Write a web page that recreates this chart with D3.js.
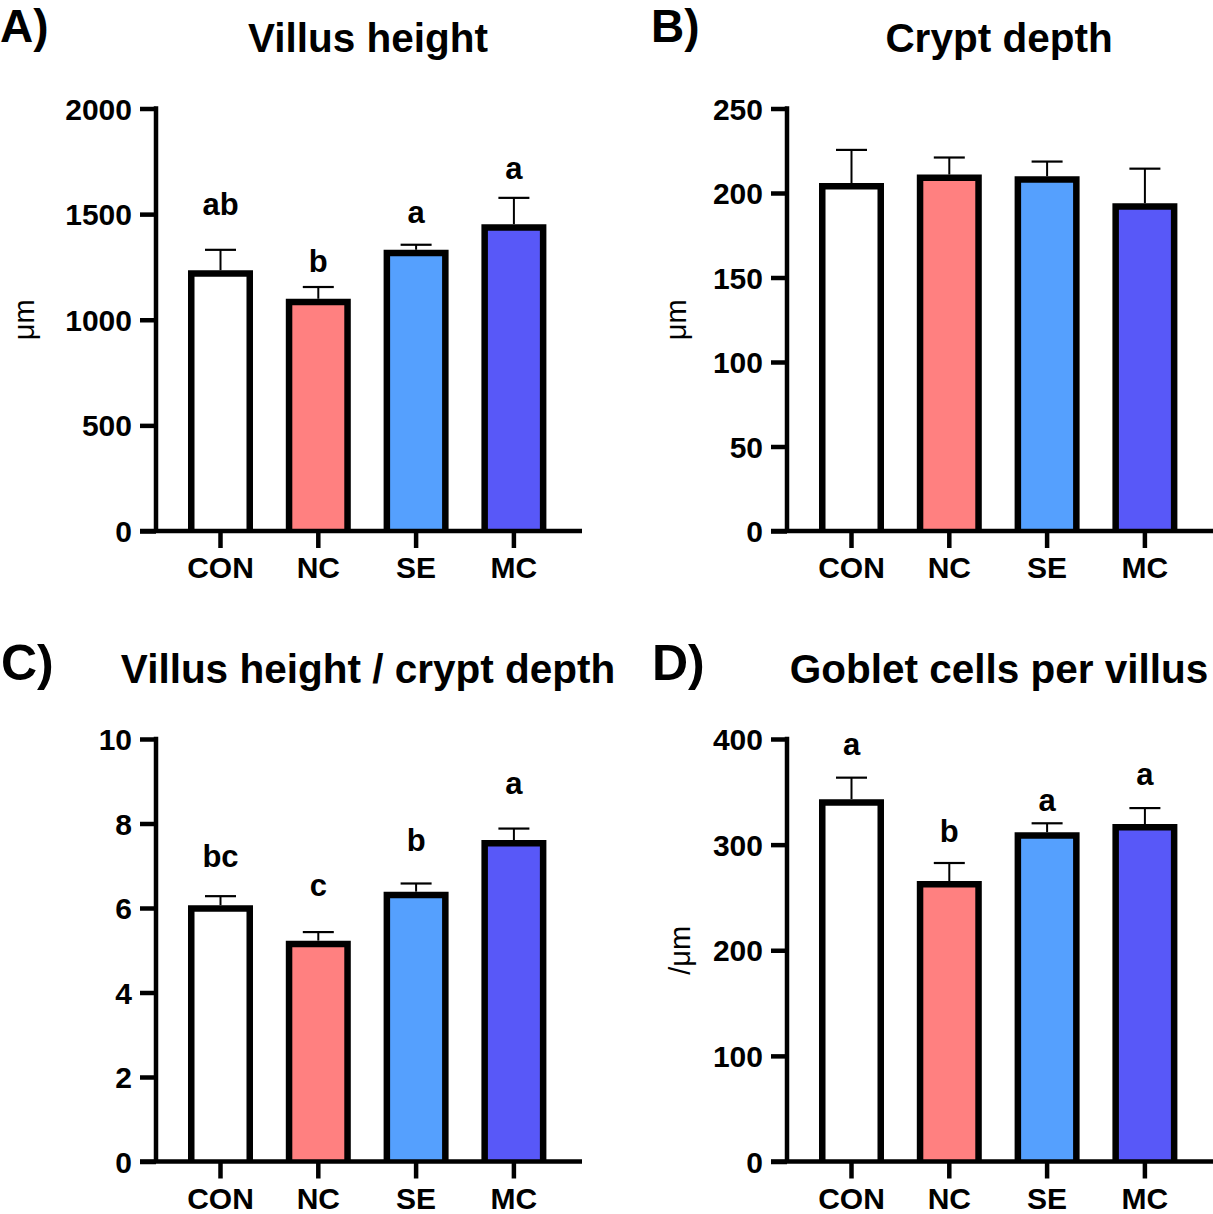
<!DOCTYPE html>
<html>
<head>
<meta charset="utf-8">
<script src="https://cdn.jsdelivr.net/npm/d3@7"></script>
<style>
  html, body { margin: 0; padding: 0; background: #fff; }
  svg { display: block; font-family: "Liberation Sans", Arial, Helvetica, sans-serif; }
</style>
</head>
<body>
<svg id="chart" width="1213" height="1214"></svg>
<script>
// ---------------- data ----------------
const groups = ["CON", "NC", "SE", "MC"];

const villusMean = [1219, 1084, 1316, 1437];
const villusSem = [112, 71, 39, 140];
const villusLetters = ["ab", "b", "a", "a"];
const villusLetterAt = [1495, 1225, 1459, 1667];
const villusTicks = [0, 500, 1000, 1500, 2000];

const cryptMean = [204, 209, 208, 192];
const cryptSem = [21.5, 12, 10.6, 22.4];
const cryptLetters = ["", "", "", ""];
const cryptLetterAt = [0, 0, 0, 0];
const cryptTicks = [0, 50, 100, 150, 200, 250];

const ratioMean = [5.99, 5.15, 6.31, 7.53];
const ratioSem = [0.29, 0.28, 0.27, 0.35];
const ratioLetters = ["bc", "c", "b", "a"];
const ratioLetterAt = [6.97, 6.28, 7.34, 8.69];
const ratioTicks = [0, 2, 4, 6, 8, 10];

const gobletMean = [340, 262.5, 308.7, 316.4];
const gobletSem = [23.4, 20.1, 11.5, 18.2];
const gobletLetters = ["a", "b", "a", "a"];
const gobletLetterAt = [385, 302.5, 332, 356];
const gobletTicks = [0, 100, 200, 300, 400];

const barColors = ["#FFFFFF", "#FF8080", "#55A0FE", "#5858F8"];

// ---------------- layout ----------------
const svg = d3.select("#chart");
const base = { axisX: 156, top: 108.5, bottom: 531, right: 582, bandL: 171.6, bandR: 562.8 };

const panels = [
  { label: "A)", title: "Villus height", yTitle: "μm", mean: villusMean, sem: villusSem,
    letters: villusLetters, letterAt: villusLetterAt, ticks: villusTicks,
    dx: 0, dy: 0, labelX: 0, labelY: 42, labelSize: 46, yTitleX: 34 },
  { label: "B)", title: "Crypt depth", yTitle: "μm", mean: cryptMean, sem: cryptSem,
    letters: cryptLetters, letterAt: cryptLetterAt, ticks: cryptTicks,
    dx: 631, dy: 0, labelX: 651, labelY: 42, labelSize: 46, yTitleX: 686 },
  { label: "C)", title: "Villus height / crypt depth", yTitle: "", mean: ratioMean, sem: ratioSem,
    letters: ratioLetters, letterAt: ratioLetterAt, ticks: ratioTicks,
    dx: 0, dy: 630.5, labelX: 1, labelY: 680, labelSize: 50, yTitleX: 34 },
  { label: "D)", title: "Goblet cells per villus", yTitle: "/μm", mean: gobletMean, sem: gobletSem,
    letters: gobletLetters, letterAt: gobletLetterAt, ticks: gobletTicks,
    dx: 631, dy: 630.5, labelX: 652, labelY: 680, labelSize: 50, yTitleX: 690 }
];

const AXIS_W = 4.5, BAR_W = 6.5, TICK = 16;

panels.forEach(p => {
  const g = svg.append("g");
  const ax = base.axisX + p.dx, top = base.top + p.dy, bot = base.bottom + p.dy, right = base.right + p.dx;

  const x = d3.scaleBand().domain(groups)
    .range([base.bandL + p.dx, base.bandR + p.dx])
    .paddingInner(0.402).paddingOuter(0.201);
  const y = d3.scaleLinear().domain([0, d3.max(p.ticks)]).range([bot, top]);

  // bars (open at bottom)
  groups.forEach((k, i) => {
    const x0 = x(k), x1 = x(k) + x.bandwidth(), yt = y(p.mean[i]);
    g.append("path")
      .attr("d", `M${x0},${y(0)}V${yt}H${x1}V${y(0)}`)
      .attr("fill", barColors[i])
      .attr("stroke", "#000")
      .attr("stroke-width", BAR_W)
      .attr("stroke-linejoin", "miter");
  });

  // error bars (upper only)
  groups.forEach((k, i) => {
    const cx = x(k) + x.bandwidth() / 2;
    const y1 = y(p.mean[i] + p.sem[i]);
    g.append("line").attr("x1", cx).attr("x2", cx)
      .attr("y1", y(p.mean[i]) - BAR_W / 2).attr("y2", y1)
      .attr("stroke", "#000").attr("stroke-width", 2);
    g.append("line").attr("x1", cx - 15.5).attr("x2", cx + 15.5)
      .attr("y1", y1).attr("y2", y1)
      .attr("stroke", "#000").attr("stroke-width", 2.2);
  });

  // significance letters
  groups.forEach((k, i) => {
    if (!p.letters[i]) return;
    g.append("text")
      .attr("x", x(k) + x.bandwidth() / 2)
      .attr("y", y(p.letterAt[i]))
      .attr("text-anchor", "middle")
      .attr("font-size", 31).attr("font-weight", "bold")
      .text(p.letters[i]);
  });

  // y axis
  const yAxis = d3.axisLeft(y).tickValues(p.ticks).tickFormat(d3.format("d"))
    .tickSize(TICK).tickSizeOuter(0).tickPadding(8);
  const gy = g.append("g").attr("transform", `translate(${ax},0)`).call(yAxis);
  gy.select(".domain").remove();
  gy.selectAll(".tick line").attr("stroke", "#000").attr("stroke-width", AXIS_W);
  gy.selectAll(".tick text").attr("font-size", 30).attr("font-weight", "bold")
    .attr("fill", "#000").attr("font-family", null).attr("dy", "0.35em");
  g.append("line").attr("x1", ax).attr("x2", ax).attr("y1", top - AXIS_W / 2).attr("y2", bot)
    .attr("stroke", "#000").attr("stroke-width", AXIS_W);

  // x axis
  const xAxis = d3.axisBottom(x).tickSize(17).tickSizeOuter(0).tickPadding(9);
  const gx = g.append("g").attr("transform", `translate(0,${bot})`).call(xAxis);
  gx.select(".domain").remove();
  gx.selectAll(".tick line").attr("stroke", "#000").attr("stroke-width", AXIS_W);
  gx.selectAll(".tick text").attr("font-size", 30).attr("font-weight", "bold")
    .attr("fill", "#000").attr("font-family", null);
  g.append("line").attr("x1", ax - TICK).attr("x2", right).attr("y1", bot).attr("y2", bot)
    .attr("stroke", "#000").attr("stroke-width", AXIS_W);

  // y title
  if (p.yTitle) {
    g.append("text")
      .attr("transform", `translate(${p.yTitleX},${(top + bot) / 2}) rotate(-90)`)
      .attr("text-anchor", "middle")
      .attr("font-size", 29)
      .text(p.yTitle);
  }

  // chart title
  g.append("text")
    .attr("x", (ax + right) / 2 - 1).attr("y", 52 + p.dy)
    .attr("text-anchor", "middle")
    .attr("font-size", 40.5).attr("font-weight", "bold")
    .text(p.title);

  // panel label
  g.append("text")
    .attr("x", p.labelX).attr("y", p.labelY)
    .attr("font-size", p.labelSize).attr("font-weight", "bold")
    .text(p.label);
});
</script>
</body>
</html>
